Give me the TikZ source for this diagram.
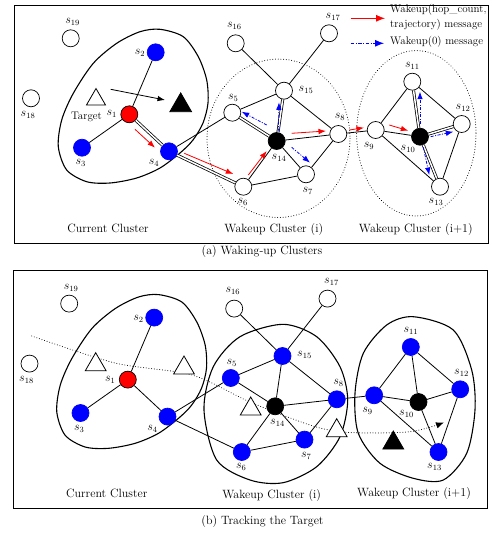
\documentclass[tikz,border=0pt]{standalone}
\usetikzlibrary{shapes.geometric,arrows.meta}
\newcommand\netpanel[3]{%
 \foreach \n/\x/\y/\f/\d/\dx/\dy in {
  1/129.3/114.3/red/black/-17.6/0,
  2/155.7/52.3/blue/blue/-15.7/1,
  3/82/147.7/blue/blue/-1.3/15.6,
  4/169/151.3/blue/blue/-15/12,
  5/232.3/112.7/#2/1/-15,
  6/243.3/186.7/#2/-0.6/15,
  7/306/174.3/#2/1.7/16.7,
  8/338.3/134/#2/1.7/-16.7,
  9/375.7/130/#2/-6.7/15.7,
  10/420/136.7/black/black/-12/12.3,
  11/412.3/81.7/#2/0/-16,
  12/461.7/124/#2/1.3/-16,
  13/440/186.7/#2/-4/15,
  14/276.7/141/black/black/2.3/16.7,
  15/284/90.7/#2/22/-0.7,
  16/235.7/43.3/white/black/-1.4/-17.6,
  17/329/33.3/white/black/4/-16.3,
  18/31/98.3/white/black/-3/16.7,
  19/70.7/38.3/white/black/2/-16}
 {\node[sn,fill=\f,draw=\d] (#1\n) at (\x,\y) {};
  \node[lab] (#1l\n) at ({\x+\dx},{\y+\dy}) {$s_{\n}$};}
 \foreach \u/\v in {1/2,1/3,4/5,5/15,16/15,17/15,15/8,14/8,14/6,14/7,6/7,7/8,8/9,9/11,9/10,9/13,11/12,12/13}
  {\draw[lnk] (#1\u) -- (#1\v);}
 \foreach \u/\v in {1/4,4/6,14/5,14/15,10/11,10/12,10/13}
  {\draw[#3] (#1\u) -- (#1\v);}
}
\newcommand\curblob{%
 \draw[clust] plot[smooth cycle] coordinates {(160,29.3) (183.3,36.7) (198.3,56.7) (206.7,80) (208,103) (203,123) (193,140) (180,153) (160,168) (136.7,178) (110,183) (86.7,181.7) (66.7,170) (58.3,146.7) (61.7,120) (73.3,93.3) (93.3,63.3) (116.7,43.3) (140,31.7)};}
\begin{document}
\begin{tikzpicture}[x=1pt,y=-1pt,
  font=\fontsize{12}{14}\selectfont,
  sn/.style={circle,line width=0.7pt,minimum size=17pt,inner sep=0pt},
  lab/.style={inner sep=0pt},
  lnk/.style={line width=0.8pt},
  dbl/.style={line width=0.75pt,double=white,double distance=1.5pt},
  rarr/.style={red,line width=0.8pt,-{Latex[length=7.5pt,width=5.5pt]}},
  barr/.style={blue,line width=0.8pt,dash pattern=on 3pt off 1.5pt on 1pt off 1.5pt,-{Latex[length=7.5pt,width=5.5pt]}},
  tri/.style={regular polygon,regular polygon sides=3,draw=black,line width=0.8pt,inner sep=0pt,minimum size=24pt},
  clust/.style={line width=1.1pt},
  dotc/.style={line width=1pt,line cap=round,dash pattern=on 0.01pt off 2.7pt},
  panelbox/.style={line width=1pt}
]
\useasboundingbox (0,0) rectangle (491,536);
% ---------------- panel (a)
\draw[panelbox] (14,5) rectangle (488,243);
\curblob
\draw[dotc] (278.5,138.3) ellipse [x radius=71.5, y radius=79.2];
\draw[dotc] (416.3,133.3) ellipse [x radius=59.7, y radius=82.7];
\netpanel{a}{white/black}{dbl}
\node[tri,fill=white,minimum size=22pt] (tgt) at (96,99.5) {};
\node[tri,fill=black,minimum size=25pt] (tgtnew) at (180.7,105.4) {};
\node[lab,font=\fontsize{11}{13}\selectfont] (tgtlab) at (86.5,116.7) {Target};
\coordinate (mvs) at (110.7,89.3);
\coordinate (mve) at (165,100);
\draw[line width=0.8pt,-{Latex[length=7.5pt,width=5.5pt]}] (mvs) -- (mve);
\foreach \i/\x/\y/\X/\Y in {1/135/129.3/155/147.7, 2/184.3/153.3/233.3/174, 3/248.3/175/266.7/151, 4/291.7/133.3/326/131, 5/349.3/130/364/127.7, 6/389.3/125/408.3/130.7}
 {\coordinate (rs\i) at (\x,\y); \coordinate (re\i) at (\X,\Y); \draw[rarr] (rs\i) -- (re\i);}
\foreach \i/\x/\y/\X/\Y in {1/266.7/125/241.7/111.7, 2/278.3/131.7/279/102.3, 3/291.7/147.3/310/162.7, 4/420/124/420/91.7, 5/430.7/136.7/453.3/131.7, 6/423.3/147.3/429.3/175}
 {\coordinate (bs\i) at (\x,\y); \coordinate (be\i) at (\X,\Y); \draw[barr] (bs\i) -- (be\i);}
% legend
\coordinate (lg1s) at (350.7,18.3); \coordinate (lg1e) at (385,18.3);
\coordinate (lg2s) at (350.7,43.3); \coordinate (lg2e) at (384,43.3);
\draw[red,line width=0.9pt,-{Latex[length=9pt,width=7pt]}] (lg1s) -- (lg1e);
\draw[blue,line width=0.9pt,dash pattern=on 3.5pt off 1.5pt on 1pt off 1.5pt,-{Latex[length=9pt,width=7pt]}] (lg2s) -- (lg2e);
\node[lab,anchor=west,align=left,font=\fontsize{11}{15}\selectfont] (lgt1) at (390,17.5) {Wakeup(hop\_count,\\trajectory) message};
\node[lab,anchor=west,font=\fontsize{11}{13}\selectfont] (lgt2) at (390,42) {Wakeup(0) message};
\node[lab] (ca1) at (108,228.3) {Current Cluster};
\node[lab] (ca2) at (273.8,229.3) {Wakeup Cluster (i)};
\node[lab] (ca3) at (415.8,229.3) {Wakeup Cluster (i+1)};
\node[lab] (capa) at (262,252) {(a) Waking-up Clusters};
% ---------------- panel (b)
\draw[panelbox] (13,270) rectangle (487,508);
\draw[clust] plot[smooth cycle] coordinates {(283,324.3) (316.7,336.7) (340,366.7) (347.7,400) (340,436.7) (316.7,466.7) (283,482.7) (250,480) (216.7,460) (204,410) (213.3,366.7) (240,336.7)};
\draw[clust] plot[smooth cycle] coordinates {(413.3,316.7) (453.3,330) (471.7,370) (475,410) (466.7,453.3) (443.3,480) (413.3,478.3) (380,463.3) (358.3,433.3) (355,393.3) (363.3,353.3) (386.7,325)};
\draw[dotc,-{Latex[length=8pt,width=6.5pt]}] plot[smooth] coordinates {(31.7,336) (115,363) (192,375) (250,402) (313,426) (350,432.5) (410,431.7) (444,422.5)};
\begin{scope}[shift={(-1.5,265.3)}]
\curblob
\netpanel{b}{blue/blue}{lnk}
\end{scope}
\node[tri,fill=white] (tb1) at (95.7,364.7) {};
\node[tri,fill=white] (tb2) at (184,368) {};
\node[tri,fill=white] (tb3) at (250.7,409) {};
\node[tri,fill=white] (tb4) at (336.7,430.7) {};
\node[tri,fill=black] (tb5) at (393.3,443) {};
\node[lab] (cb1) at (106.8,493.3) {Current Cluster};
\node[lab] (cb2) at (271.7,495) {Wakeup Cluster (i)};
\node[lab] (cb3) at (414,493.3) {Wakeup Cluster (i+1)};
\node[lab] (capb) at (262.5,521.7) {(b) Tracking the Target};
\end{tikzpicture}
\end{document}
